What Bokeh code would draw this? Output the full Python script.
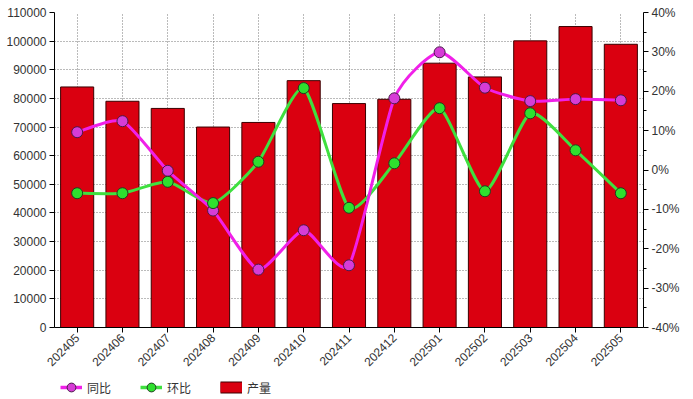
import math
from bokeh.plotting import figure
from bokeh.layouts import column
from bokeh.models import (Range1d, LinearAxis, FixedTicker, PrintfTickFormatter,
                          NumeralTickFormatter, Legend, LegendItem)
from bokeh.embed import file_html
from bokeh.resources import INLINE

months = ["202405", "202406", "202407", "202408", "202409", "202410", "202411",
          "202412", "202501", "202502", "202503", "202504", "202505"]
output = [84000, 79000, 76500, 70000, 71600, 86200, 78200,
          79700, 92300, 87500, 100100, 105100, 98900]
yoy = [9.6, 12.4, -0.2, -10.3, -25.3, -15.3, -24.2,
       18.2, 29.9, 20.9, 17.5, 18.0, 17.7]
mom = [-5.9, -5.9, -3.0, -8.4, 2.1, 20.8, -9.6,
       1.7, 15.7, -5.4, 14.4, 5.0, -5.9]

idx = list(range(len(months)))

FONT = "Liberation Sans"
CJK = "Noto Sans CJK SC"

BAR_FILL = "#DA0010"
BAR_LINE = "#3a0000"
YOY_LINE = "#F020E8"
YOY_FILL = "#D63CD6"
YOY_EDGE = "#4a1a4a"
MOM_LINE = "#3FE03F"
MOM_FILL = "#2EE02E"
MOM_EDGE = "#1f3f1f"

p = figure(width=693, height=373, x_range=Range1d(-0.5, len(months) - 0.5),
           y_range=Range1d(0, 110000), output_backend="svg", toolbar_location=None,
           min_border_left=54, min_border_right=50, min_border_top=12, min_border_bottom=45)
p.extra_y_ranges = {"pct": Range1d(-40, 40)}
p.outline_line_color = None
p.background_fill_color = "white"

# axes
p.xaxis.ticker = FixedTicker(ticks=idx)
p.xaxis.major_label_overrides = {i: m for i, m in zip(idx, months)}
p.xaxis.major_label_orientation = math.pi / 4
p.yaxis.ticker = FixedTicker(ticks=list(range(0, 110001, 10000)))
p.yaxis.formatter = NumeralTickFormatter(format="0")

right = LinearAxis(y_range_name="pct", ticker=FixedTicker(ticks=list(range(-40, 41, 10)),
                                                          minor_ticks=list(range(-35, 36, 10))),
                   formatter=PrintfTickFormatter(format="%d%%"))
p.add_layout(right, "right")

for ax in [p.xaxis[0], p.yaxis[0], right]:
    ax.axis_line_color = "black"
    ax.major_tick_line_color = "black"
    ax.minor_tick_line_color = "black"
    ax.major_tick_in = 0
    ax.major_tick_out = 5
    ax.minor_tick_in = 0
    ax.minor_tick_out = 3
    ax.major_label_text_font = FONT
    ax.major_label_text_font_size = "12px"
    ax.major_label_text_color = "#333333"
    ax.major_label_standoff = 3
p.xaxis.minor_tick_line_color = None
p.yaxis[0].minor_tick_line_color = None

# grid
p.xgrid.ticker = FixedTicker(ticks=idx)
p.xgrid.grid_line_color = "#777777"
p.xgrid.grid_line_dash = "1 2"
p.ygrid.grid_line_color = "#777777"
p.ygrid.grid_line_dash = "1 2"

# bars
bars = p.vbar(x=idx, top=output, width=0.73, fill_color=BAR_FILL,
              line_color=BAR_LINE, line_width=1)


def smooth(xs, ys, k=0.1):
    n = len(xs)
    x0, y0, x1, y1, cx0, cy0, cx1, cy1 = [], [], [], [], [], [], [], []
    for i in range(n - 1):
        pm = max(i - 1, 0)
        pp = min(i + 2, n - 1)
        x0.append(xs[i]); y0.append(ys[i])
        x1.append(xs[i + 1]); y1.append(ys[i + 1])
        cx0.append(xs[i] + (xs[i + 1] - xs[pm]) * k)
        cy0.append(ys[i] + (ys[i + 1] - ys[pm]) * k)
        cx1.append(xs[i + 1] - (xs[pp] - xs[i]) * k)
        cy1.append(ys[i + 1] - (ys[pp] - ys[i]) * k)
    return dict(x0=x0, y0=y0, x1=x1, y1=y1, cx0=cx0, cy0=cy0, cx1=cx1, cy1=cy1)


p.bezier(line_color=MOM_LINE, line_width=3, y_range_name="pct", **smooth(idx, mom))
p.bezier(line_color=YOY_LINE, line_width=3, y_range_name="pct", **smooth(idx, yoy))

p.scatter(idx, yoy, size=11, fill_color=YOY_FILL, line_color=YOY_EDGE,
          line_width=1, y_range_name="pct")
p.scatter(idx, mom, size=11, fill_color=MOM_FILL, line_color=MOM_EDGE,
          line_width=1, y_range_name="pct")

# legend strip (separate small figure holding legend swatches)
lg = figure(width=693, height=26, output_backend="svg", toolbar_location=None,
            x_range=Range1d(0, 1), y_range=Range1d(0, 1),
            x_axis_location=None, y_axis_location=None,
            min_border=0, outline_line_color=None)
lg.grid.visible = False
sw_yoy_l = lg.line([0, 1], [0, 0], line_color=YOY_LINE, line_width=3.5, visible=False)
sw_yoy_p = lg.scatter([0], [0], size=11, fill_color=YOY_FILL, line_color=YOY_EDGE, visible=False)
sw_mom_l = lg.line([0, 1], [0, 0], line_color=MOM_LINE, line_width=3.5, visible=False)
sw_mom_p = lg.scatter([0], [0], size=11, fill_color=MOM_FILL, line_color=MOM_EDGE, visible=False)
sw_bar_edge = lg.line([0, 1], [0, 0], line_color=BAR_LINE, line_width=12, visible=False)
sw_bar_fill = lg.line([0, 1], [0, 0], line_color=BAR_FILL, line_width=10, visible=False)

legend = Legend(items=[LegendItem(label="同比", renderers=[sw_yoy_l, sw_yoy_p]),
                       LegendItem(label="环比", renderers=[sw_mom_l, sw_mom_p]),
                       LegendItem(label="产量", renderers=[sw_bar_edge, sw_bar_fill])],
                orientation="horizontal", location=(6, -2),
                border_line_color=None, background_fill_alpha=0,
                inactive_fill_alpha=0,
                glyph_width=22, glyph_height=28, label_height=16, label_standoff=5,
                spacing=29, padding=0, margin=0,
                label_text_font=CJK, label_text_font_size="12px",
                label_text_color="#333333")
lg.add_layout(legend)

layout = column(p, lg, spacing=0)
open("out.html", "w").write(file_html(layout, INLINE))
